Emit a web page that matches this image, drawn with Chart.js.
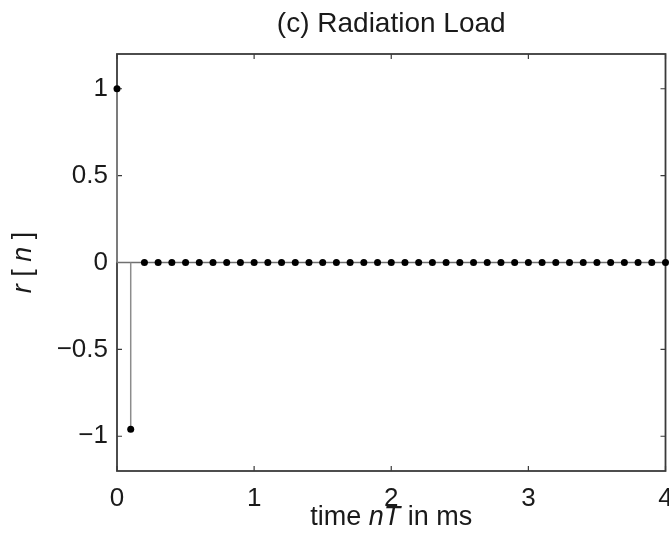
<!DOCTYPE html>
<html><head><meta charset="utf-8">
<script src="https://cdn.jsdelivr.net/npm/chart.js@4/dist/chart.umd.min.js"></script>
<style>html,body{margin:0;padding:0;background:#fff}#wrap{width:669px;height:545px}</style>
</head><body><div id="wrap"><canvas id="c" width="669" height="545"></canvas></div>
<script>
const titleText = "(c) Radiation Load";
const timesMs = [0.0,0.1,0.2,0.3,0.4,0.5,0.6,0.7,0.8,0.9,1.0,1.1,1.2,1.3,1.4,1.5,1.6,1.7,1.8,1.9,2.0,2.1,2.2,2.3,2.4,2.5,2.6,2.7,2.8,2.9,3.0,3.1,3.2,3.3,3.4,3.5,3.6,3.7,3.8,3.9,4.0];
const rValues = [1,-0.96,0,0,0,0,0,0,0,0,0,0,0,0,0,0,0,0,0,0,0,0,0,0,0,0,0,0,0,0,0,0,0,0,0,0,0,0,0,0,0];
const xTicks = [0,1,2,3,4];
const xTickLabels = ["0","1","2","3","4"];
const yTicks = [-1,-0.5,0,0.5,1];
const yTickLabels = ["\u22121","\u22120.5","0","0.5","1"];
const xLabelParts = [["time ",false],["nT",true],[" in ms",false]];
const yLabelParts = [["r",true],[" [ ",false],["n",true],[" ]",false]];

const FONT = '"Liberation Sans", Arial, sans-serif';
const TXT = '#1a1a1a';

const stemData = [];
timesMs.forEach((t,i)=>{ stemData.push({x:t,y:0},{x:t,y:rValues[i]},{x:t,y:NaN}); });
const pointData = timesMs.map((t,i)=>({x:t,y:rValues[i]}));
const baseData = [{x:timesMs[0],y:0},{x:timesMs[timesMs.length-1],y:0}];

function drawParts(ctx, parts, size, cx, cy){
  let widths = parts.map(p=>{ctx.font=(p[1]?'italic ':'')+size+'px '+FONT; return ctx.measureText(p[0]).width;});
  let total = widths.reduce((a,b)=>a+b,0);
  let x = cx - total/2;
  parts.forEach((p,i)=>{ctx.font=(p[1]?'italic ':'')+size+'px '+FONT; ctx.fillText(p[0],x,cy); x+=widths[i];});
}

const framePlugin = {
  id:'frame',
  beforeDatasetsDraw(chart){
    const {ctx, chartArea:a, scales} = chart;
    ctx.save();
    ctx.strokeStyle='#3a3a3a'; ctx.lineWidth=1.8;
    ctx.strokeRect(a.left,a.top,a.right-a.left,a.bottom-a.top);
    ctx.lineWidth=1.2;
    const L=5;
    xTicks.forEach(v=>{const px=scales.x.getPixelForValue(v);
      ctx.beginPath();ctx.moveTo(px,a.bottom);ctx.lineTo(px,a.bottom-L);ctx.moveTo(px,a.top);ctx.lineTo(px,a.top+L);ctx.stroke();});
    yTicks.forEach(v=>{const py=scales.y.getPixelForValue(v);
      ctx.beginPath();ctx.moveTo(a.left,py);ctx.lineTo(a.left+L,py);ctx.moveTo(a.right,py);ctx.lineTo(a.right-L,py);ctx.stroke();});
    ctx.restore();
  },
  afterDraw(chart){
    const {ctx, chartArea:a} = chart;
    ctx.save();
    ctx.fillStyle=TXT;
    ctx.textBaseline='alphabetic';
    ctx.textAlign='left';
    ctx.font='28px '+FONT;
    const tw=ctx.measureText(titleText).width;
    ctx.fillText(titleText, (a.left+a.right)/2 - tw/2, 32);
    drawParts(ctx, xLabelParts, 27, (a.left+a.right)/2, 525);
    ctx.translate(31,(a.top+a.bottom)/2);
    ctx.rotate(-Math.PI/2);
    drawParts(ctx, yLabelParts, 27, 0, 0);
    ctx.restore();
  }
};

new Chart(document.getElementById('c'), {
  type:'scatter',
  data:{datasets:[
    {data:pointData, pointRadius:3.5, pointHoverRadius:3.5, backgroundColor:'#000', borderWidth:0, pointBorderWidth:0, clip:false},
    {data:stemData, showLine:true, pointRadius:0, borderColor:'#8c8c8c', borderWidth:1.5, spanGaps:false, clip:false},
    {data:baseData, showLine:true, pointRadius:0, borderColor:'#707070', borderWidth:1.5, clip:false}
  ]},
  options:{
    responsive:false, animation:false, devicePixelRatio:1,
    layout:{padding:{top:54,right:3,left:0,bottom:0}},
    plugins:{legend:{display:false},tooltip:{enabled:false},title:{display:false}},
    scales:{
      x:{type:'linear',min:0,max:4,
        afterBuildTicks:s=>{s.ticks=xTicks.map(v=>({value:v}));},
        ticks:{callback:v=>xTickLabels[xTicks.indexOf(v)],font:{size:26,family:FONT},color:TXT,padding:12,maxRotation:0,autoSkip:false},
        grid:{display:false,drawTicks:false},border:{display:false},
        afterFit:s=>{s.height=74;s.paddingLeft=0;s.paddingRight=0;}},
      y:{type:'linear',min:-1.2,max:1.2,
        afterBuildTicks:s=>{s.ticks=yTicks.map(v=>({value:v}));},
        ticks:{callback:v=>yTickLabels[yTicks.indexOf(v)],font:{size:26,family:FONT},color:TXT,padding:9,autoSkip:false},
        grid:{display:false,drawTicks:false},border:{display:false},
        afterFit:s=>{s.width=117;s.paddingTop=0;s.paddingBottom=0;}}
    }
  },
  plugins:[framePlugin]
});
</script></body></html>
